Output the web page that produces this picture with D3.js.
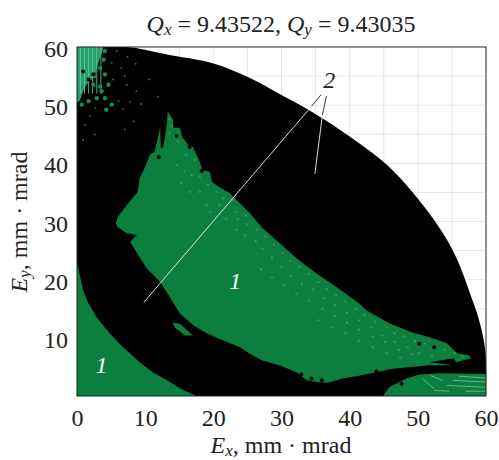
<!DOCTYPE html>
<html>
<head>
<meta charset="utf-8">
<script src="https://cdn.jsdelivr.net/npm/d3@7"></script>
<style>
  html, body { margin: 0; padding: 0; background: #fff; }
  svg { display: block; }
  text { font-family: "Liberation Serif", serif; fill: #222; }
</style>
</head>
<body>
<svg id="chart" width="499" height="460"></svg>
<script>
// axis ticks and grid
const xTicks = [0, 10, 20, 30, 40, 50, 60];
const yTicks = [10, 20, 30, 40, 50, 60];
const gridTicks = [5, 10, 15, 20, 25, 30, 35, 40, 45, 50, 55];

// outer edge of the black region, Ex / Ey in mm mrad
const envelope = [[7, 60], [8.2, 59.9], [13.2, 58.7], [19.9, 57.2], [25.3, 54.7], [30.2, 51.6], [35.1, 48.4], [40, 44.6], [45.5, 39.7],
  [49.8, 34.2], [53.4, 28.5], [55.6, 23.9], [58, 16.5], [59, 13], [59.9, 7.8], [60, 0]];

// green regions (survival area 1)
const lowerLeft = [[0, 23], [0.9, 18.2], [1.6, 16.1], [2.9, 13.5], [4.8, 10.8], [6.3, 8.9], [7.8, 7.3], [9.2, 5.8], [11.1, 4.1], [13.2, 2.7], [15.4, 1.1], [17.6, 0], [0, 0]];
const mainArea = [[13.3, 48.9], [14.1, 47.5], [14.1, 46.1], [15.1, 46.1], [15.4, 44.6], [16.3, 43.2], [17, 42.8], [18, 40.3], [18.4, 38.9], [19.5, 38.5], [19.8, 36.8], [20.9, 35.9], [22.4, 34.9],
  [23.4, 33.7], [25.3, 31.5], [27.2, 28.9], [29.7, 26.3], [32.2, 23.7], [35.1, 21.1], [38.1, 18.7], [41.4, 15.9], [42.5, 14.7], [45.8, 12.5], [49.2, 10.9], [51.7, 10.1], [54.2, 9.1], [55.8, 7.3], [57.5, 7], [57.8, 6.5],
  [55.6, 5.8], [55.3, 6.5], [51.7, 5.8], [55.3, 5.3], [51.7, 5.3], [46.3, 4.7], [43.9, 4.1], [41.4, 3.5], [38.9, 3], [37, 2.3], [35.6, 2.3], [33.7, 2.7], [32.2, 4.1], [29.7, 5.3], [27.2, 6.1], [25.3, 7.3], [23.9, 8.4], [21.4, 9.6], [19, 10.8], [17, 12.2],
  [15.1, 14.2], [13.6, 17], [12.2, 19.6], [10.2, 22], [8.8, 24.6], [7.8, 26.5], [8.8, 27.7], [7.3, 28], [5.9, 29.1], [5.7, 29.7], [6, 30.8], [7.3, 32.8], [8.9, 35.1], [9.2, 37.5], [10, 39.4], [10.7, 41.5], [11.4, 42],
  [12.2, 46.1], [12.3, 42.7], [12.6, 42.7], [12.9, 44.4], [13.2, 47.2]];
const islet = [[14, 12.6], [15.1, 12.4], [17, 10.4], [15.9, 10.4], [14.4, 11.7]];
const lowerRight = [[44.9, 0], [45.8, 1.5], [48.3, 3], [50.2, 3.7], [53.6, 3.9], [60, 3.8], [60, 0]];
const cornerArea = [[0, 60], [3.9, 60], [3.8, 59.7], [3.1, 57.1], [2.6, 54.9], [1.9, 54.2], [1.2, 53.2], [0.4, 50.8], [0, 50.4]];

// green speckle in the upper left corner
const speckleBig = [[4.1, 59.3], [3.4, 56.4], [4.1, 55.3], [3.9, 57.8], [2.6, 55], [2.4, 53.5], [3.4, 53.2], [1.7, 50.7], [2.9, 51.2], [5.1, 50.1], [4.3, 49.2], [4.1, 51.2], [0.7, 50.1], [3.6, 52.4], [4.6, 53.5]];
const speckleSmall = [[5.8, 59.3], [5.1, 57.3], [6.1, 50.7], [1.9, 48.1], [7, 55], [5.3, 54.4], [6.5, 56.4], [7.3, 53.5], [8.7, 52.4], [8.3, 47.2], [7, 45.8], [1.2, 46.6], [2.6, 44.9], [0.9, 44], [2.7, 49.5],
  [7.8, 50.6], [6.7, 49.3], [9.4, 50.2], [10.6, 54.4], [11.9, 51.4], [7.4, 58.3], [8.6, 57.1]];

// dark holes in the green
const holes = [[14.6, 44.7], [16.5, 42.8], [12, 41.1], [18.3, 38.7], [50.2, 9], [52.4, 8.4], [47.6, 2.1], [43.9, 4.2], [34.4, 3], [35.9, 2.7], [32.9, 3.7], [0.9, 55.8], [1.7, 54.4], [2.4, 55.3]];

// lighter dots inside the main area
const lightDots = [[13.6, 47.6], [13.9, 46.4], [13.6, 45.2], [14.8, 43.8], [16, 41.5], [17.3, 40.6], [14.6, 39.7], [15.8, 38.6], [16.8, 38], [18, 37.7], [15.3, 36.6], [16.5, 35.1], [18, 35.1], [19.2, 36.3], [20.4, 35.1],
  [19, 32.8], [21.4, 34], [22.9, 33.7], [19.5, 31.7], [20.9, 32.8], [21.9, 30.5], [23.4, 31.7], [24.8, 31], [23.6, 30.4],
  [25, 29.5], [26.4, 28.6], [27.6, 27.4], [28.9, 26], [30.2, 24.6], [31.3, 23.2], [32.6, 22.2], [34, 21], [35.4, 19.6], [36.6, 18.4], [38, 17.3], [39.4, 16.2],
  [40.9, 15], [42.2, 14], [43.7, 12.8], [45.4, 11.8], [46.6, 10.8], [48, 10.2], [49.6, 9.4], [51, 9], [52.4, 8.2], [53.9, 7.9], [55.4, 7.4], [56.6, 6.8],
  [27.2, 25.3], [28.6, 23.8], [30, 22.2], [31.4, 20.7], [33, 19.3], [34.6, 18.3], [36.2, 16.8], [37.9, 15.6], [39.6, 14.3], [41.4, 13], [43.2, 11.8], [44.8, 10.4], [46.6, 9.3], [48.5, 8.4], [50.2, 7.4], [52.1, 6.8],
  [27, 21.8], [28.6, 20.4], [30.4, 19], [32.2, 17.6], [34, 16.4], [36, 15], [37.8, 13.8], [39.6, 12.6], [41.4, 11.4], [43.4, 10.2], [45.2, 9.3], [47.2, 7.9], [49.2, 7.2],
  [26.2, 26.6], [24.6, 27.6], [23.4, 28.6], [35.4, 13], [37.4, 11.8], [39.4, 10.8], [41.4, 9.5], [43.4, 8.4], [45.4, 7.4], [47.4, 6.6]];

// stripes of the two edge areas
const cornerStripes = [0.5, 1.1, 1.7, 2.3, 2.9, 3.5];
const rightStripes = [[[51.9, 3.5], [53.6, 2.7]], [[50.7, 3], [52.4, 1.2]], [[52.4, 0.95], [54.6, 0.83]], [[54.3, 1.8], [59.9, 1.5]], [[55.1, 2.7], [59.9, 2.4]], [[56, 3.4], [59.9, 3.1]], [[57, 0.83], [59.9, 0.83]]];

// leader lines and labels
const leadersDark = [[[35.8, 51.8], [34.4, 49.8]], [[36.6, 51.6], [36, 48.3]]];
const leadersLight = [[[34.4, 49.8], [9.8, 16.1]], [[36, 48.3], [34.9, 38.2]]];
const regionLabels = [{ text: "1", x: 3.6, y: 4, fill: "#fff" }, { text: "1", x: 23.2, y: 18.4, fill: "#fff" }, { text: "2", x: 37, y: 53, fill: "#222" }];

const margin = { top: 47, right: 13, bottom: 64, left: 77 };
const width = 499 - margin.left - margin.right;
const height = 460 - margin.top - margin.bottom;

const svg = d3.select("#chart");
const g = svg.append("g").attr("transform", `translate(${margin.left},${margin.top})`);

const x = d3.scaleLinear().domain([0, 60]).range([0, width]);
const y = d3.scaleLinear().domain([0, 60]).range([height, 0]);
const line = d3.line().x(d => x(d[0])).y(d => y(d[1]));
const arc = d3.line().x(d => x(d[0])).y(d => y(d[1])).curve(d3.curveCatmullRom);

// grid
g.selectAll(".gx").data(gridTicks).join("line").attr("class", "gx")
  .attr("x1", d => x(d)).attr("x2", d => x(d)).attr("y1", 0).attr("y2", height)
  .attr("stroke", "#e6e6e6").attr("stroke-width", 1);
g.selectAll(".gy").data(gridTicks).join("line").attr("class", "gy")
  .attr("y1", d => y(d)).attr("y2", d => y(d)).attr("x1", 0).attr("x2", width)
  .attr("stroke", "#e6e6e6").attr("stroke-width", 1);

// marks, slightly soft like the scanned figure
const marks = g.append("g").style("filter", "blur(0.4px)");
const green = "#0c7f3f";

g.append("clipPath").attr("id", "main-clip").append("path").attr("d", line(mainArea) + "Z");

marks.append("path")
  .attr("d", arc(envelope) + `L${x(0)},${y(0)}L${x(0)},${y(60)}Z`)
  .attr("fill", "#000");
marks.append("path").attr("d", line(cornerArea) + "Z").attr("fill", "#23a06c");
marks.selectAll(".cs").data(cornerStripes).join("line").attr("class", "cs")
  .attr("x1", d => x(d)).attr("x2", d => x(d)).attr("y1", y(60)).attr("y2", y(52))
  .attr("stroke", "#6fcaa4").attr("stroke-width", 0.8);
marks.selectAll(".sb").data(speckleBig).join("circle").attr("class", "sb")
  .attr("cx", d => x(d[0])).attr("cy", d => y(d[1])).attr("r", 2.2).attr("fill", "#128f50");
marks.selectAll(".ss").data(speckleSmall).join("circle").attr("class", "ss")
  .attr("cx", d => x(d[0])).attr("cy", d => y(d[1])).attr("r", 1).attr("fill", "#0e7a42");
[lowerLeft, mainArea, islet, lowerRight].forEach(area => {
  marks.append("path").attr("d", line(area) + "Z").attr("fill", green);
});
marks.append("g").attr("clip-path", "url(#main-clip)")
  .selectAll("circle").data(lightDots).join("circle")
  .attr("cx", d => x(d[0])).attr("cy", d => y(d[1])).attr("r", 1.2).attr("fill", "#2c9a60");
marks.selectAll(".ho").data(holes).join("circle").attr("class", "ho")
  .attr("cx", d => x(d[0])).attr("cy", d => y(d[1])).attr("r", 2).attr("fill", "#000");
marks.selectAll(".rs").data(rightStripes).join("path").attr("class", "rs")
  .attr("d", line).attr("fill", "none").attr("stroke", "#5cb98c").attr("stroke-width", 1);

// frame
g.append("rect").attr("width", width).attr("height", height)
  .attr("fill", "none").attr("stroke", "#222").attr("stroke-width", 1);

// leaders
g.selectAll(".ldk").data(leadersDark).join("path").attr("class", "ldk")
  .attr("d", line).attr("fill", "none").attr("stroke", "#222").attr("stroke-width", 0.9);
g.selectAll(".llt").data(leadersLight).join("path").attr("class", "llt")
  .attr("d", line).attr("fill", "none").attr("stroke", "#f2f2f2").attr("stroke-width", 0.9);
g.selectAll(".rl").data(regionLabels).join("text").attr("class", "rl")
  .attr("x", d => x(d.x)).attr("y", d => y(d.y))
  .attr("font-size", 24).attr("font-style", "italic").attr("text-anchor", "middle")
  .style("fill", d => d.fill).text(d => d.text);

// axes
const xAxis = g.append("g").attr("transform", `translate(0,${height})`)
  .call(d3.axisBottom(x).tickValues(xTicks).tickSize(0).tickPadding(13));
const yAxis = g.append("g")
  .call(d3.axisLeft(y).tickValues(yTicks).tickSize(0).tickPadding(9));
[xAxis, yAxis].forEach(a => {
  a.select(".domain").remove();
  a.selectAll("text").attr("font-family", "Liberation Serif").attr("font-size", 24).style("fill", "#222");
});
yAxis.selectAll("text").attr("dy", "0.4em");

// title and axis labels
function addLabel(sel, letter, sub, rest) {
  sel.append("tspan").attr("font-style", "italic").text(letter);
  sel.append("tspan").attr("font-style", "italic").attr("font-size", 17).attr("dy", 3).text(sub);
  sel.append("tspan").attr("dy", -3).text(rest);
}
const title = svg.append("text").attr("x", 281).attr("y", 32).attr("text-anchor", "middle").attr("font-size", 24);
addLabel(title, "Q", "x", " = 9.43522, ");
addLabel(title, "Q", "y", " = 9.43035");

const xLabel = svg.append("text").attr("x", 281).attr("y", 453).attr("text-anchor", "middle").attr("font-size", 24);
addLabel(xLabel, "E", "x", ", mm · mrad");

const yLabel = svg.append("text").attr("transform", "translate(27,222) rotate(-90)").attr("text-anchor", "middle").attr("font-size", 24);
addLabel(yLabel, "E", "y", ", mm · mrad");
</script>
</body>
</html>
